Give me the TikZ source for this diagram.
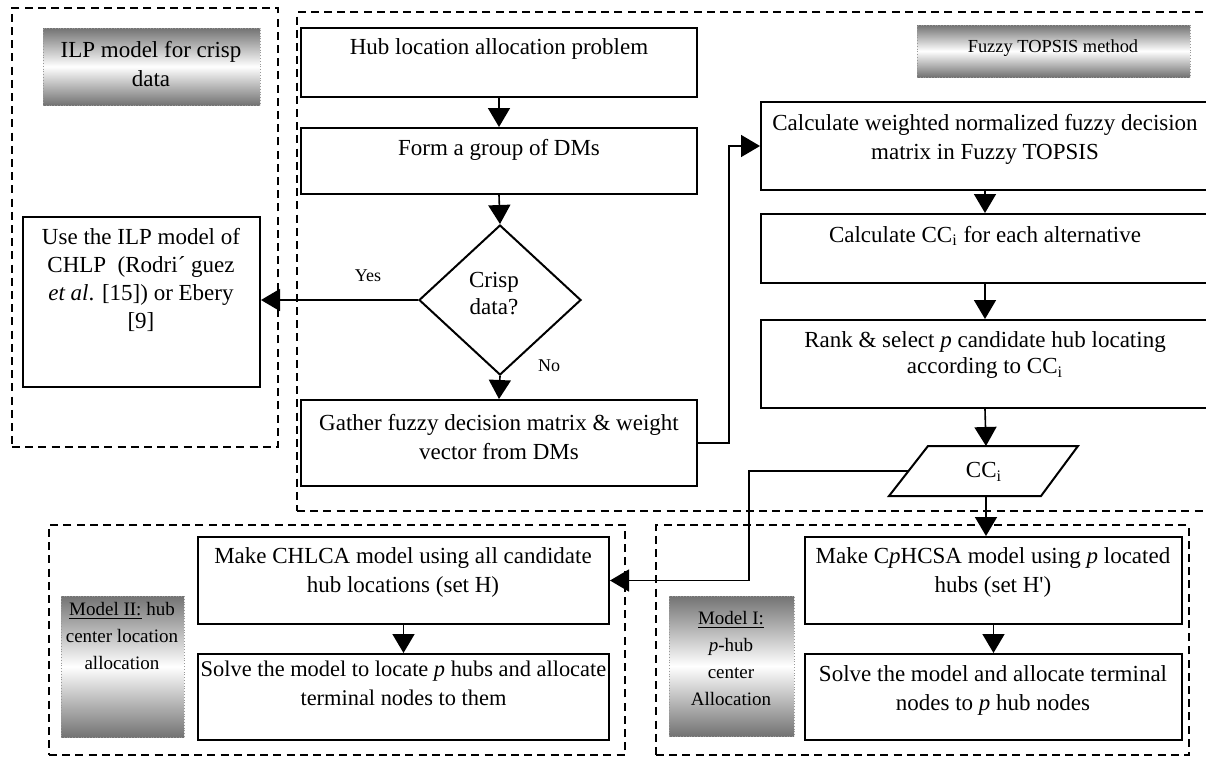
\documentclass[tikz,border=0pt]{standalone}
\usepackage{fontspec}
\setmainfont{Liberation Serif}
\usetikzlibrary{arrows.meta,shapes.geometric,fit}

\begin{document}
\begin{tikzpicture}[x=0.5pt,y=-0.5pt,
  every node/.style={font=\fontsize{11.5}{14.5}\selectfont},
  box/.style={draw, line width=1pt, inner sep=0pt},
  grp/.style={draw, line width=0.85pt, dash pattern=on 4pt off 2.6pt, inner sep=0pt},
  tag/.style={draw=black!40, densely dotted, line width=0.4pt, inner sep=0pt,
              top color=black!55, bottom color=black!55, middle color=white},
  txt/.style={align=center, inner sep=0pt},
  small/.style={font=\fontsize{9.5}{13.5}\selectfont},
  link/.style={line width=0.8pt, -{Triangle[length=9.5pt,width=11pt]}},
  wire/.style={line width=0.8pt},
]
\useasboundingbox (0,0) rectangle (1206,757);

% dashed group frames
\node[grp, fit={(12,8)(278,447)}]     (gILP)  {};
\node[grp, fit={(297,12)(1220,511)}]  (gTOP)  {};
\node[grp, fit={(49,525)(625,755)}]   (gII)   {};
\node[grp, fit={(656,525)(1189,755)}] (gI)    {};

% shaded titles of the groups
\node[tag, fit={(43,28)(260,105)}]    (tILP) {};
\node[txt] (tILPt) at (151,64) {ILP model for crisp\\data};
\node[tag, fit={(917,25)(1190,77)}]   (tTOP) {};
\node[txt, font=\fontsize{9.2}{11}\selectfont] (tTOPt) at (1053,48) {Fuzzy TOPSIS method};
\node[tag, fit={(61,596)(184,737)}]   (tII) {};
\node[txt, small] (tIIt) at (122,636) {\underline{Model II:} hub\\center location\\allocation};
\node[tag, fit={(669,596)(794,736)}]  (tI) {};
\node[txt, small] (tIt) at (731,658) {\underline{Model I:}\\\textit{p}-hub\\center\\Allocation};

% process boxes
\node[box, fit={(301,28)(697,97)}]    (hub)    {};
\node[txt] at (499,49) {Hub location allocation problem};
\node[box, fit={(301,128)(697,194)}]  (form)   {};
\node[txt] at (499,150) {Form a group of DMs};
\node[draw, diamond, line width=1pt, minimum width=81pt, minimum height=75pt, inner sep=0pt] (crisp) at (500,300) {};
\node[txt, font=\fontsize{11.5}{13.5}\selectfont] at (494,294) {Crisp\\data?};
\node[box, fit={(301,400)(697,486)}]  (gather) {};
\node[txt] at (499,437) {Gather fuzzy decision matrix \& weight\\vector from DMs};
\node[box, fit={(23,217)(260,387)}]   (useilp) {};
\node[txt, font=\fontsize{11.5}{14}\selectfont] at (141,280) {Use the ILP model of\\CHLP\ \ (Rodri´ guez\\\textit{et al}. [15]) or Ebery\\{[9]}};

\node[box, fit={(761,102)(1209,190)}] (calc)   {};
\node[txt] at (985,139) {Calculate weighted normalized fuzzy decision\\matrix in Fuzzy TOPSIS};
\node[box, fit={(761,214)(1209,283)}] (calccc) {};
\node[txt] at (985,236) {Calculate CC\textsubscript{i} for each alternative};
\node[box, fit={(761,320)(1209,408)}] (rank)   {};
\node[txt, font=\fontsize{11.5}{13}\selectfont] at (985,355) {Rank \& select \textit{p} candidate hub locating\\according to CC\textsubscript{i}};

% data symbol
\coordinate (ccT) at (986,446);
\coordinate (ccB) at (986,496);
\coordinate (ccL) at (908,471);
\draw[line width=1pt] (889,496) -- (928,446) -- (1078,446) -- (1041,496) -- cycle;
\node[txt] (cc) at (984,472) {CC\textsubscript{i}};

\node[box, fit={(198,537)(609,624)}]  (chlca)  {};
\node[txt] at (403,572) {Make CHLCA model using all candidate\\hub locations (set H)};
\node[box, fit={(198,654)(609,740)}]  (solve1) {};
\node[txt, font=\fontsize{11.2}{14.5}\selectfont] at (403.5,683) {Solve the model to locate \textit{p} hubs and allocate\\terminal nodes to them};
\node[box, fit={(805,537)(1182,624)}] (cphcsa) {};
\node[txt] at (993,572) {Make C\textit{p}HCSA model using \textit{p} located\\hubs (set H\textquotesingle)};
\node[box, fit={(805,654)(1182,740)}] (solve2) {};
\node[txt] at (993,690) {Solve the model and allocate terminal\\nodes to \textit{p} hub nodes};

% branch labels
\node[txt, font=\fontsize{9}{10}\selectfont] (yes) at (368,276) {Yes};
\node[txt, font=\fontsize{9}{10}\selectfont] (no)  at (549,366) {No};

% connectors
\coordinate (j1) at (729,443);
\coordinate (j2) at (749,471);
\draw[link] (hub.south) -- (form.north);
\draw[link] (form.south) -- (crisp.north);
\draw[link] (crisp.south) -- (gather.north);
\draw[link] (crisp.west) -- (crisp.west -| useilp.east);
\draw[link] (gather.east) -- (j1) |- (calc.west);
\draw[link] (calc.south) -- (calccc.north);
\draw[link] (calccc.south) -- (rank.north);
\draw[link] (rank.south) -- (ccT);
\draw[link] (ccB) -- (ccB |- cphcsa.north);
\draw[link] (ccL) -- (j2) |- (chlca.east);
\draw[link] (chlca.south) -- (solve1.north);
\draw[link] (cphcsa.south) -- (solve2.north);
\end{tikzpicture}
\end{document}
